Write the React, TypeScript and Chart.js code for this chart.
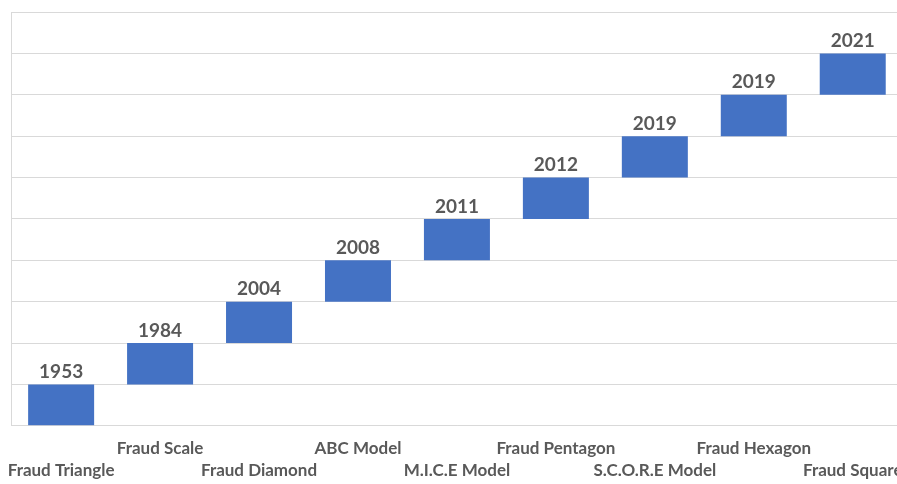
import React, { useEffect, useRef } from "react";
import { Chart, registerables } from "chart.js";

Chart.register(...registerables);

const categories = [
  "Fraud Triangle",
  "Fraud Scale",
  "Fraud Diamond",
  "ABC Model",
  "M.I.C.E Model",
  "Fraud Pentagon",
  "S.C.O.R.E Model",
  "Fraud Hexagon",
  "Fraud Square",
];
const years = ["1953", "1984", "2004", "2008", "2011", "2012", "2019", "2019", "2021"];
const barStart = [0, 1, 2, 3, 4, 5, 6, 7, 8];
const barEnd = [1, 2, 3, 4, 5, 6, 7, 8, 9];

const TEXT = "#595959";
const GRID = "#d9d9d9";

const valueLabels = {
  id: "valueLabels",
  afterDatasetsDraw(chart: any) {
    const ctx = chart.ctx;
    const meta = chart.getDatasetMeta(0);
    ctx.save();
    ctx.font = "bold 19px Lato";
    ctx.fillStyle = TEXT;
    ctx.textAlign = "center";
    ctx.textBaseline = "bottom";
    meta.data.forEach((bar: any, i: number) => {
      ctx.fillText(years[i], bar.x, bar.y - 3);
    });
    ctx.restore();
  },
};

export default function App() {
  const ref = useRef<HTMLCanvasElement>(null);
  useEffect(() => {
    document.body.style.margin = "0";
    document.body.style.overflow = "hidden";
    document.documentElement.style.overflow = "hidden";
    if (!ref.current) return;
    const chart = new Chart(ref.current, {
      type: "bar",
      data: {
        labels: categories,
        datasets: [
          {
            data: barStart.map((s, i) => [s, barEnd[i]]) as any,
            backgroundColor: "#4472C4",
            borderWidth: 0,
            categoryPercentage: 1,
            barPercentage: 0.667,
          },
        ],
      },
      options: {
        animation: false,
        responsive: false,
        layout: { padding: { top: 4, left: 0, right: 7, bottom: 3 } },
        plugins: { legend: { display: false }, tooltip: { enabled: false } },
        scales: {
          x: {
            grid: { display: false, drawTicks: false },
            border: { display: false },
            ticks: {
              autoSkip: false,
              maxRotation: 0,
              minRotation: 0,
              padding: 12,
              color: TEXT,
              font: { family: "Lato", weight: "bold", size: 17, lineHeight: 1.3 },
              callback: (_v: any, i: number) =>
                i % 2 === 0 ? ["", categories[i]] : [categories[i]],
            },
          },
          y: {
            min: 0,
            max: 10,
            grid: { color: GRID, drawTicks: false },
            border: { display: true, color: GRID },
            ticks: { display: false, stepSize: 1 },
          },
        },
      },
      plugins: [valueLabels],
    });
    return () => chart.destroy();
  }, []);
  return (
    <div style={{ width: 897, height: 484, overflow: "hidden", position: "relative" }}>
      <canvas
        ref={ref}
        width={918}
        height={489}
        style={{ display: "block", position: "absolute", left: -4, top: 8 }}
      />
    </div>
  );
}
